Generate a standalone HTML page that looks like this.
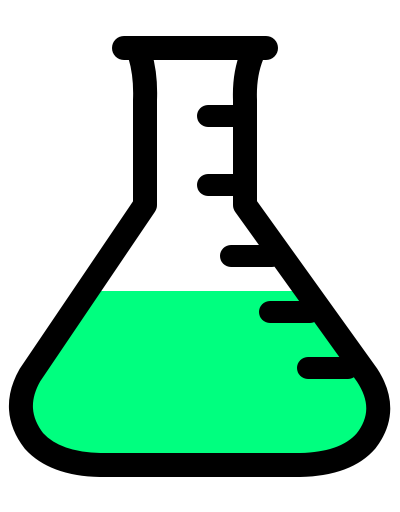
<!DOCTYPE html>
<html>
<head>
<meta charset="utf-8">
<style>
html,body{margin:0;padding:0;background:#fff;width:400px;height:512px;overflow:hidden;}
svg{display:block;}
</style>
</head>
<body>
<svg width="400" height="512" viewBox="0 0 400 512">
  <defs>
    <clipPath id="flaskClip">
      <path d="M140,55 Q146,75 145,100 L145,205 L30,375 Q10,410 34,441 Q55,464 100,465 L300,465 Q346,464 366,441 Q390,410 367,375 L245,205 L245,100 Q244,75 252,55 Z"/>
    </clipPath>
  </defs>
  <path d="M140,55 Q146,75 145,100 L145,205 L30,375 Q10,410 34,441 Q55,464 100,465 L300,465 Q346,464 366,441 Q390,410 367,375 L245,205 L245,100 Q244,75 252,55 Z" fill="#fff"/>
  <rect x="0" y="291" width="400" height="200" fill="#00ff7f" clip-path="url(#flaskClip)"/>
  <path d="M140,55 Q146,75 145,100 L145,205 L30,375 Q10,410 34,441 Q55,464 100,465 L300,465 Q346,464 366,441 Q390,410 367,375 L245,205 L245,100 Q244,75 252,55" fill="none" stroke="#000" stroke-width="24" stroke-linejoin="round" stroke-linecap="round"/>
  <line x1="124" y1="48" x2="266" y2="48" stroke="#000" stroke-width="24" stroke-linecap="round"/>
  <g stroke="#000" stroke-width="22" stroke-linecap="round">
    <line x1="208" y1="116" x2="240" y2="116"/>
    <line x1="208" y1="185" x2="240" y2="185"/>
    <line x1="231" y1="256" x2="272" y2="256"/>
    <line x1="270" y1="312" x2="310" y2="312"/>
    <line x1="308" y1="368" x2="348" y2="368"/>
  </g>
</svg>
</body>
</html>
